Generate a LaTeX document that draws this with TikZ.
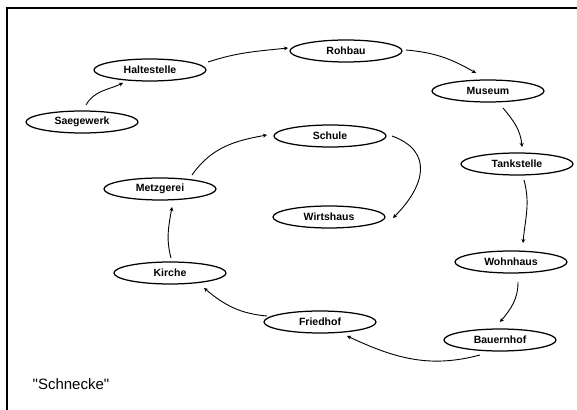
\documentclass[tikz,border=0pt]{standalone}
\usepackage{fontspec}
\setmainfont{Liberation Sans}
\usetikzlibrary{shapes.geometric,arrows.meta,calc}
\begin{document}
\begin{tikzpicture}[x=1pt,y=1pt,
  place/.style={ellipse,draw,line width=1.25pt,minimum width=112pt,minimum height=22pt,inner sep=0pt,
    font=\bfseries\fontsize{10.5}{12}\selectfont},
  conn/.style={line width=0.9pt,-{Stealth[length=4pt,width=4pt]}}]
\useasboundingbox (0,0) rectangle (577,409);
\begin{scope}
\clip (0,0) rectangle (577,409);
\draw[line width=1.4pt] (7,-10) rectangle (600,401);
\end{scope}
\node[place] (sae) at (82,287) {Saegewerk};
\node[place] (hal) at (150,339) {Haltestelle};
\node[place] (roh) at (346,358) {Rohbau};
\node[place] (mus) at (488,318) {Museum};
\node[place] (tan) at (517,245) {Tankstelle};
\node[place] (woh) at (511,147) {Wohnhaus};
\node[place] (bau) at (500,69) {Bauernhof};
\node[place] (fri) at (320,87) {Friedhof};
\node[place] (kir) at (170,136) {Kirche};
\node[place] (met) at (160,220) {Metzgerei};
\node[place] (sch) at (330,273) {Schule};
\node[place] (wir) at (329,192) {Wirtshaus};
\node[font=\fontsize{15}{18}\selectfont] (title) at (71,25) {\textquotedbl Schnecke\textquotedbl};
\draw[conn] ($(sae)+(4,17)$) to[out=60,in=205] ($(hal)+(-27,-13)$);
\draw[conn] ($(hal)+(58,8)$) to[out=18,in=186] ($(roh)+(-58,3)$);
\draw[conn] ($(roh)+(60,1)$) to[out=-5,in=150] ($(mus)+(-12,18)$);
\draw[conn] ($(mus)+(15,-17)$) to[out=-50,in=95] ($(tan)+(5,17)$);
\draw[conn] ($(tan)+(7,-16)$) to[out=-75,in=85] ($(woh)+(12,19)$);
\draw[conn] ($(woh)+(7,-20)$) to[out=-90,in=50] ($(bau)+(0,18)$);
\draw[conn] ($(bau)+(-20,-15)$) to[out=195,in=-25] ($(fri)+(27,-14)$);
\draw[conn] ($(fri)+(-53,6)$) to[out=175,in=-40] ($(kir)+(34,-15)$);
\draw[conn] ($(kir)+(1,15)$) to[out=105,in=-100] ($(met)+(12,-18)$);
\draw[conn] ($(met)+(32,14)$) to[out=55,in=190] ($(sch)+(-63,1)$);
\draw[conn] ($(sch)+(62,0)$) to[out=-20,in=45,looseness=1.4] ($(wir)+(64,-1)$);
\end{tikzpicture}
\end{document}
